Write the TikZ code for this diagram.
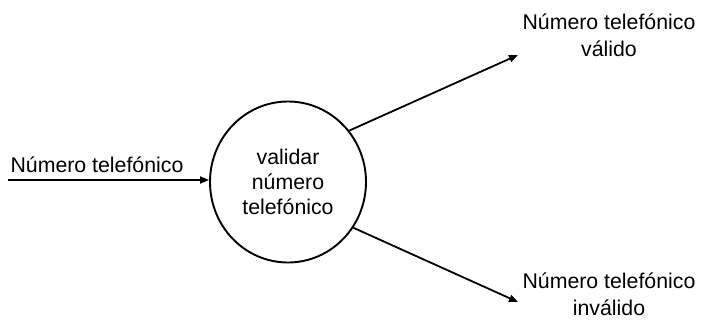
\documentclass[tikz,border=0pt]{standalone}
\usepackage{fontspec}
\setmainfont{Liberation Sans}
\usetikzlibrary{arrows.meta,shapes.geometric}
\begin{document}
\begin{tikzpicture}[x=1pt,y=-1pt,
  flow/.style={line width=1.8pt,-{Triangle[length=9pt,width=7pt]}},
  lbl/.style={font=\fontsize{21.3}{27}\selectfont,align=center,inner sep=0pt},
  proc/.style={ellipse,draw,line width=1.9pt,minimum width=156pt,minimum height=161pt,inner sep=0pt,align=center,font=\fontsize{21.3}{25}\selectfont}]
\useasboundingbox (0,0) rectangle (701,321);
\node[proc] (p) at (288,182) {validar\\número\\telefónico};
\node[lbl,anchor=base] (in) at (97,172) {Número telefónico};
\node[lbl] (v) at (609,35) {Número telefónico\\válido};
\node[lbl] (iv) at (609,294) {Número telefónico\\inválido};
\coordinate (s) at (8,180);
\coordinate (ve) at (518,55);
\coordinate (ie) at (518,302);
\draw[flow] (s) -- (s -| p.west);
\draw[flow] (p.40) -- (ve);
\draw[flow] (p.-35) -- (ie);
\end{tikzpicture}
\end{document}
